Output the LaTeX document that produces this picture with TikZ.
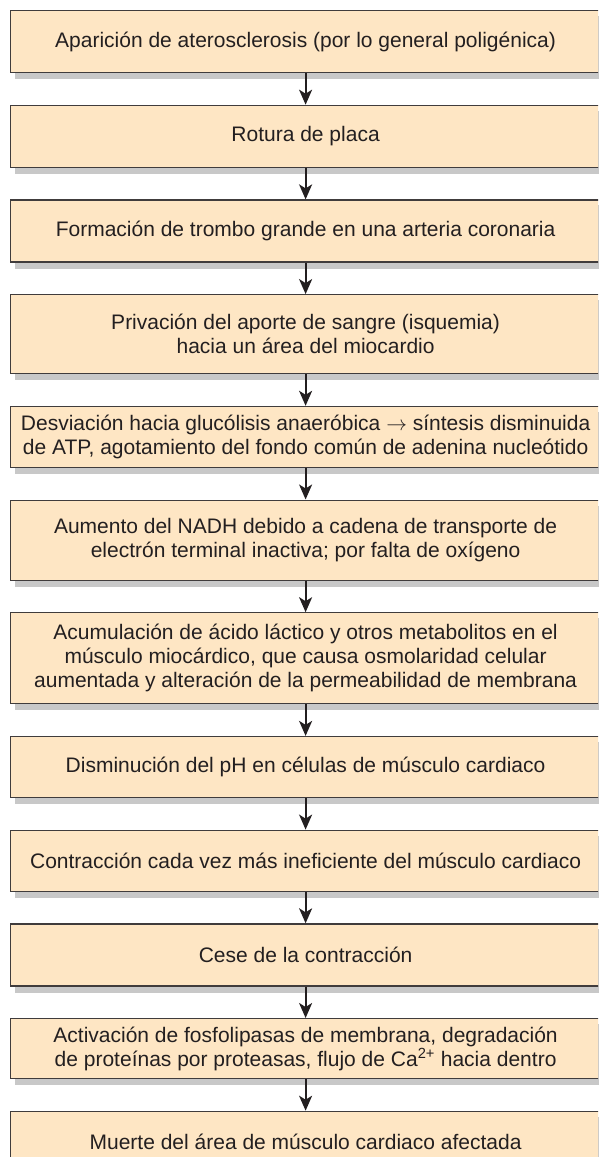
\documentclass[tikz,border=0pt]{standalone}
\usepackage{fontspec}
\setmainfont{Liberation Sans}
\definecolor{boxfill}{RGB}{254,230,196}
\definecolor{boxline}{RGB}{64,60,60}
\definecolor{shadowgray}{RGB}{200,200,200}
\definecolor{inkdark}{RGB}{35,31,32}
\usetikzlibrary{arrows.meta, positioning, backgrounds}

\begin{document}
\begin{tikzpicture}[x=1pt, y=1pt, node distance=31.5pt,
  stepbox/.style={draw=boxline, line width=1.2pt, fill=boxfill, text=inkdark,
    minimum width=590pt, minimum height=#1, align=center, inner sep=2pt,
    font=\fontsize{21}{24}\selectfont},
  stepbox/.default=62pt,
  flow/.style={-{Stealth[length=15pt, width=13pt, inset=4pt]}, line width=2pt, draw=inkdark}]
\useasboundingbox (0,0) rectangle (598,-1157);
\clip (0,0) rectangle (598,-1157);
% Steps
\node[stepbox, anchor=north west] (athero) at (10,-10) {Aparición de aterosclerosis (por lo general poligénica)};
\node[stepbox, below=of athero] (rupture) {Rotura de placa};
\node[stepbox, below=of rupture] (thrombus) {Formación de trombo grande en una arteria coronaria};
\node[stepbox=79pt, below=of thrombus] (ischemia) {Privación del aporte de sangre (isquemia)\\hacia un área del miocardio};
\node[stepbox=61pt, below=of ischemia] (glycolysis) {Desviación hacia glucólisis anaeróbica $\rightarrow$ síntesis disminuida\\de ATP, agotamiento del fondo común de adenina nucleótido};
\node[stepbox=80pt, below=of glycolysis] (nadh) {Aumento del NADH debido a cadena de transporte de\\electrón terminal inactiva; por falta de oxígeno};
\node[stepbox=91pt, below=of nadh] (lactate) {Acumulación de ácido láctico y otros metabolitos en el\\músculo miocárdico, que causa osmolaridad celular\\aumentada y alteración de la permeabilidad de membrana};
\node[stepbox=61pt, below=of lactate] (ph) {Disminución del pH en células de músculo cardiaco};
\node[stepbox=61pt, below=of ph] (contraction) {Contracción cada vez más ineficiente del músculo cardiaco};
\node[stepbox, below=of contraction] (cease) {Cese de la contracción};
\node[stepbox=60pt, below=of cease] (enzymes) {Activación de fosfolipasas de membrana, degradación\\de proteínas por proteasas, flujo de Ca\textsuperscript{2+} hacia dentro};
\node[stepbox, below=of enzymes] (death) {Muerte del área de músculo cardiaco afectada};
% Shadows
\begin{scope}[on background layer]
\foreach \n in {athero, rupture, thrombus, ischemia, glycolysis, nadh, lactate, ph, contraction, cease, enzymes, death}
  \fill[shadowgray] ([shift={(5pt,-6pt)}]\n.south west) rectangle ([shift={(5pt,-6pt)}]\n.north east);
\end{scope}
% Arrows
\draw[flow] (athero.south) -- (rupture.north);
\draw[flow] (rupture.south) -- (thrombus.north);
\draw[flow] (thrombus.south) -- (ischemia.north);
\draw[flow] (ischemia.south) -- (glycolysis.north);
\draw[flow] (glycolysis.south) -- (nadh.north);
\draw[flow] (nadh.south) -- (lactate.north);
\draw[flow] (lactate.south) -- (ph.north);
\draw[flow] (ph.south) -- (contraction.north);
\draw[flow] (contraction.south) -- (cease.north);
\draw[flow] (cease.south) -- (enzymes.north);
\draw[flow] (enzymes.south) -- (death.north);
\end{tikzpicture}
\end{document}
